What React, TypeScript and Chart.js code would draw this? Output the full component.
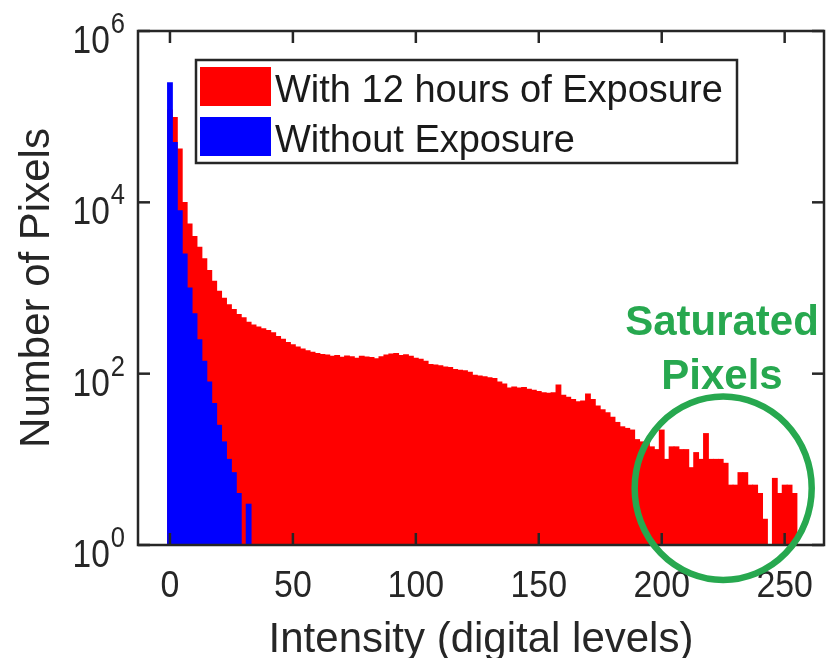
import React, { useEffect, useRef } from 'react';
import { Chart, registerables } from 'chart.js';

Chart.register(...registerables);

// Histogram bin centres (digital levels)
const intensityBins = [
  0, 2, 4, 6, 8, 10, 12, 14, 16, 18, 20, 22, 24, 26, 28, 30, 32, 34, 36, 38,
  40, 42, 44, 46, 48, 50, 52, 54, 56, 58, 60, 62, 64, 66, 68, 70, 72, 74, 76, 78,
  80, 82, 84, 86, 88, 90, 92, 94, 96, 98, 100, 102, 104, 106, 108, 110, 112, 114, 116, 118,
  120, 122, 124, 126, 128, 130, 132, 134, 136, 138, 140, 142, 144, 146, 148, 150, 152, 154, 156, 158,
  160, 162, 164, 166, 168, 170, 172, 174, 176, 178, 180, 182, 184, 186, 188, 190, 192, 194, 196, 198,
  200, 202, 204, 206, 208, 210, 212, 214, 216, 218, 220, 222, 224, 226, 228, 230, 232, 234, 236, 238,
  240, 242, 244, 246, 248, 250, 252, 254,
];

// Pixel counts with 12 hours of exposure (red)
const withExposure = [
  120000, 98000, 42000, 10000, 5600, 4000, 3000, 2200, 1600, 1200, 920, 760, 640, 560, 490, 450, 400, 370, 350, 335,
  320, 300, 272, 252, 232, 218, 205, 194, 186, 178, 172, 168, 165, 160, 163, 156, 161, 158, 152, 160,
  157, 155, 150, 158, 165, 170, 172, 163, 166, 160, 152, 148, 140, 128, 126, 124, 120, 118, 112, 110,
  108, 104, 96, 94, 92, 90, 88, 80, 76, 68, 70, 68, 69, 66, 64, 62, 60, 59, 60, 74,
  56, 53, 50, 47, 48, 58, 50, 42, 38, 35, 31, 27, 24, 23, 22, 17, 16, 16, 14, 13,
  22, 10, 14, 14, 13, 13, 8, 12, 10, 20, 10, 10, 10, 9, 5, 5, 7, 7, 5, 5,
  4, 2, 0, 6, 4, 5, 5, 4,
];

// Pixel counts without exposure (blue)
const withoutExposureBins = [0, 2, 4, 6, 8, 10, 12, 14, 16, 18, 20, 22, 24, 26, 28, 30, 32];
const withoutExposure = [250000, 50000, 8000, 2500, 1000, 500, 250, 140, 80, 45, 25, 16, 10, 7, 4, 0, 3];

const xTicks = [0, 50, 100, 150, 200, 250];
const yTickExponents = [0, 2, 4, 6];
const legendLabels = ['With 12 hours of Exposure', 'Without Exposure'];
const annotationLines = ['Saturated', 'Pixels'];
const xTitle = 'Intensity (digital levels)';
const yTitle = 'Number of Pixels';

const FONT = '"Liberation Sans", Arial, Helvetica, sans-serif';
const AXIS = '#262626';
const RED = '#ff0000';
const BLUE = '#0000ff';
const GREEN = '#27a84f';

function toPoints(xs: number[], ys: number[]) {
  return xs.map((x, i) => ({ x, y: ys[i] > 0 ? ys[i] : null }));
}

function drawText(
  ctx: CanvasRenderingContext2D,
  s: string,
  x: number,
  y: number,
  size: number,
  opts: { bold?: boolean; align?: CanvasTextAlign; sx?: number; color?: string } = {}
) {
  const sx = opts.sx ?? 1;
  ctx.save();
  ctx.font = `${opts.bold ? 'bold ' : ''}${size}px ${FONT}`;
  ctx.fillStyle = opts.color ?? AXIS;
  ctx.textAlign = opts.align ?? 'left';
  ctx.textBaseline = 'alphabetic';
  ctx.translate(x, y);
  ctx.scale(sx, 1);
  ctx.fillText(s, 0, 0);
  ctx.restore();
}

function measure(ctx: CanvasRenderingContext2D, s: string, size: number, sx = 1, bold = false) {
  ctx.save();
  ctx.font = `${bold ? 'bold ' : ''}${size}px ${FONT}`;
  const w = ctx.measureText(s).width * sx;
  ctx.restore();
  return w;
}

const decorPlugin = {
  id: 'matlabDecor',
  afterDraw(chart: any) {
    const { ctx, chartArea: a, scales } = chart;
    const x = scales.x;
    const y = scales.y;
    ctx.save();

    // tick marks (inward, all four sides)
    ctx.strokeStyle = AXIS;
    ctx.lineWidth = 2.5;
    const tl = 12;
    const seg = (x1: number, y1: number, x2: number, y2: number) => {
      ctx.beginPath();
      ctx.moveTo(x1, y1);
      ctx.lineTo(x2, y2);
      ctx.stroke();
    };
    xTicks.forEach((v) => {
      const px = x.getPixelForValue(v);
      seg(px, a.bottom, px, a.bottom - tl);
      seg(px, a.top, px, a.top + tl);
    });
    yTickExponents.forEach((e) => {
      const py = y.getPixelForValue(Math.pow(10, e));
      seg(a.left, py, a.left + tl, py);
      seg(a.right, py, a.right - tl, py);
    });

    // axes box
    ctx.lineWidth = 2.5;
    ctx.strokeRect(a.left, a.top, a.right - a.left, a.bottom - a.top);

    // x tick labels
    xTicks.forEach((v) => {
      const px = x.getPixelForValue(v);
      drawText(ctx, String(v), px, a.bottom + 52, 36, { align: 'center', sx: 0.94 });
    });

    // y tick labels 10^n
    const sxY = 0.88;
    yTickExponents.forEach((e) => {
      const py = y.getPixelForValue(Math.pow(10, e));
      const right = a.left - 13;
      const ew = measure(ctx, String(e), 29, sxY);
      drawText(ctx, String(e), right, py + 2, 29, { align: 'right', sx: sxY });
      drawText(ctx, '10', right - ew - 1, py + 22, 38, { align: 'right', sx: sxY });
    });

    // axis titles
    drawText(ctx, xTitle, (a.left + a.right) / 2, a.bottom + 107, 42, { align: 'center' });
    ctx.save();
    ctx.translate(49, (a.top + a.bottom) / 2);
    ctx.rotate(-Math.PI / 2);
    drawText(ctx, yTitle, 0, 0, 42, { align: 'center' });
    ctx.restore();

    // legend
    const lx = a.left + 58;
    const ly = a.top + 29;
    const lw = 541;
    const lh = 103;
    ctx.fillStyle = '#ffffff';
    ctx.fillRect(lx, ly, lw, lh);
    ctx.strokeStyle = AXIS;
    ctx.lineWidth = 2.5;
    ctx.strokeRect(lx, ly, lw, lh);
    const swatchColors = [RED, BLUE];
    legendLabels.forEach((label, i) => {
      const top = ly + 7 + i * 50;
      ctx.fillStyle = swatchColors[i];
      ctx.fillRect(lx + 4, top, 71, 39);
      drawText(ctx, label, lx + 79, top + 35, 38, { color: '#1a1a1a' });
    });

    // annotation
    const cx = x.getPixelForValue(225);
    const cy = y.getPixelForValue(4.6);
    const rx = x.getPixelForValue(261) - cx;
    const ry = cy - y.getPixelForValue(4.6 * Math.pow(10, 1.07));
    ctx.strokeStyle = GREEN;
    ctx.lineWidth = 6.5;
    ctx.beginPath();
    ctx.ellipse(cx, cy, rx, ry, 0, 0, Math.PI * 2);
    ctx.stroke();
    annotationLines.forEach((line, i) => {
      drawText(ctx, line, a.left + 584, a.top + 304 + i * 54, 42, { bold: true, align: 'center', color: GREEN });
    });

    ctx.restore();
  },
};

export default function App() {
  const canvasRef = useRef<HTMLCanvasElement | null>(null);

  useEffect(() => {
    const canvas = canvasRef.current;
    if (!canvas) return;
    const common = {
      borderWidth: 0,
      grouped: false,
      categoryPercentage: 1,
      barPercentage: 1.0,
      inflateAmount: 0.45,
    };
    const chart = new Chart(canvas, {
      type: 'bar',
      data: {
        datasets: [
          {
            label: legendLabels[0],
            data: toPoints(intensityBins, withExposure) as any,
            backgroundColor: RED,
            order: 2,
            ...common,
          } as any,
          {
            label: legendLabels[1],
            data: toPoints(withoutExposureBins, withoutExposure) as any,
            backgroundColor: BLUE,
            order: 1,
            ...common,
          } as any,
        ],
      },
      options: {
        responsive: false,
        animation: false,
        devicePixelRatio: 1,
        layout: { padding: { left: 138, top: 31, right: 3, bottom: 113 } },
        plugins: {
          legend: { display: false },
          tooltip: { enabled: false },
        },
        scales: {
          x: { type: 'linear', min: -13, max: 266, display: false, offset: false },
          y: { type: 'logarithmic', min: 1, max: 1000000, display: false },
        },
      },
      plugins: [decorPlugin],
    });
    return () => chart.destroy();
  }, []);

  return (
    <div style={{ position: 'fixed', left: 0, top: 0, width: 827, height: 658, background: '#fff' }}>
      <canvas ref={canvasRef} width={827} height={658} style={{ display: 'block' }} />
    </div>
  );
}
